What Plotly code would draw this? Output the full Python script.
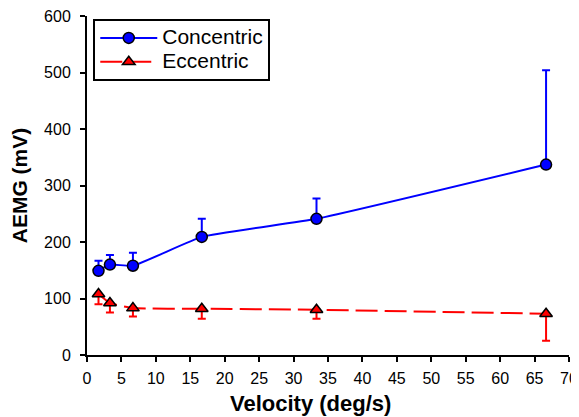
import plotly.graph_objects as go

velocity = [1.67, 3.33, 6.67, 16.67, 33.33, 66.67]
concentric = [149, 160, 158, 209, 241, 337]
concentric_err_up = [18, 17, 23, 32, 36, 167]
eccentric = [108, 92, 83, 82, 80, 73]
eccentric_err_down = [18, 17, 15, 18, 16, 48]
series_names = ["Concentric", "Eccentric"]
x_ticks = list(range(0, 71, 5))
y_ticks = list(range(0, 601, 100))
x_title = "Velocity (deg/s)"
y_title = "AEMG (mV)"

zeros = [0] * len(velocity)
font = "Liberation Sans, Arial, sans-serif"


def legend_label(name):
    return "<span style='font-size:21px'>" + name + "</span>"


fig = go.Figure()
fig.add_trace(go.Scatter(
    x=velocity, y=concentric, name=legend_label(series_names[0]), mode="lines+markers",
    line=dict(color="#0000ff", width=2, shape="spline", smoothing=0.4),
    marker=dict(symbol="circle", size=11, color="#0000ff", line=dict(color="black", width=1.5)),
    error_y=dict(type="data", symmetric=False, array=concentric_err_up, arrayminus=zeros,
                 color="#0000ff", thickness=2, width=4),
))
fig.add_trace(go.Scatter(
    x=velocity, y=eccentric, name=legend_label(series_names[1]), mode="lines+markers",
    line=dict(color="#ff0000", width=2, dash="22px,7px", shape="spline", smoothing=0.4),
    marker=dict(symbol="triangle-up", size=11, color="#ff0000", line=dict(color="black", width=1.5)),
    error_y=dict(type="data", symmetric=False, array=zeros, arrayminus=eccentric_err_down,
                 color="#ff0000", thickness=2, width=4),
))

# page body adds an 8px offset, so the figure is sized to fill the rest of the window
fig.update_layout(
    width=571, height=409,
    margin=dict(l=79, r=10, t=8, b=62, autoexpand=False),
    paper_bgcolor="white", plot_bgcolor="white",
    font=dict(family=font, color="black", size=16),
    showlegend=True,
    legend=dict(x=0.013, y=0.991, xanchor="left", yanchor="top",
                bgcolor="white", bordercolor="black", borderwidth=2,
                font=dict(size=16), tracegroupgap=0, itemwidth=57),
    annotations=[dict(text="<b>" + x_title + "</b>", xref="paper", yref="paper",
                      x=0.463, y=0, yshift=-48, xanchor="center", yanchor="middle",
                      showarrow=False, font=dict(size=22))],
)
fig.update_xaxes(
    range=[0, 70], tickvals=x_ticks, ticktext=[str(t) for t in x_ticks],
    showline=True, linecolor="black", linewidth=2, ticks="outside", ticklen=5,
    tickwidth=2, tickcolor="black", showgrid=False, zeroline=False, automargin=False,
    ticklabelstandoff=3, ticklabeloverflow="allow",
)
fig.update_yaxes(
    range=[0, 600], tickvals=y_ticks, ticktext=[str(t) for t in y_ticks],
    showline=True, linecolor="black", linewidth=2, ticks="outside", ticklen=5,
    tickwidth=2, tickcolor="black", showgrid=False, zeroline=False, automargin=False,
    ticklabelstandoff=6, ticklabeloverflow="allow",
    title=dict(text="<b>" + y_title + "</b>", font=dict(size=21), standoff=20),
)

fig.write_html("out.html")
